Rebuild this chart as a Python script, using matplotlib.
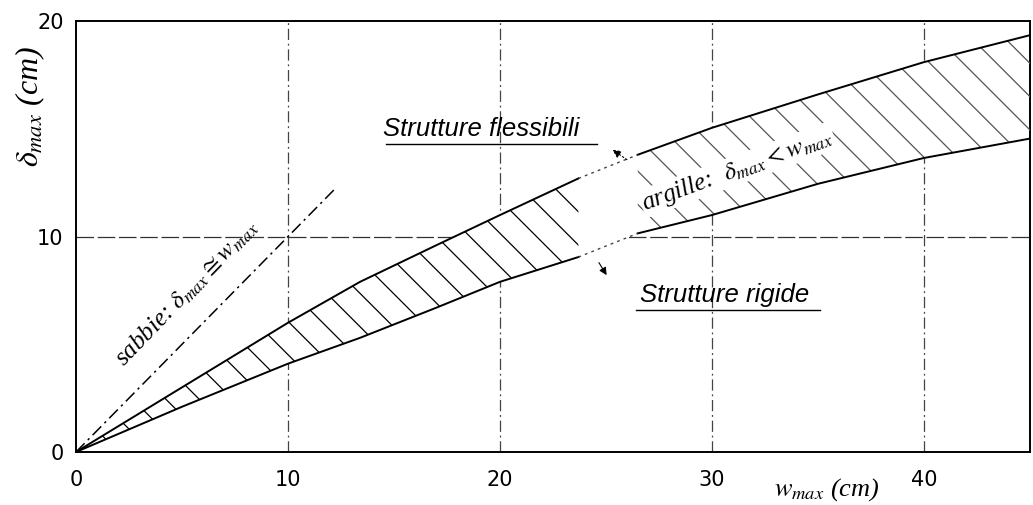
import numpy as np
import matplotlib
matplotlib.use("Agg")
import matplotlib.pyplot as plt

# Settlement band: w_max (cm) vs delta_max (cm)
w_band = [0, 5, 10, 13.4, 17, 20, 23.7, 26.5, 30, 35, 40, 45]
delta_upper = [0, 3.0, 6.0, 7.9, 9.6, 11.0, 12.7, 13.8, 15.05, 16.6, 18.1, 19.35]
delta_lower = [0, 2.1, 4.1, 5.3, 6.7, 7.9, 9.05, 10.15, 11.0, 12.45, 13.65, 14.55]
gap_start, gap_end = 23.7, 26.5

# Sands: delta_max ~ w_max
w_sand = [0, 12.3]
delta_sand = [0, 12.3]

x_ticks = [0, 10, 20, 30, 40]
y_ticks = [0, 10, 20]

plt.rcParams['mathtext.fontset'] = 'stix'
plt.rcParams['hatch.linewidth'] = 0.9

fig = plt.figure(figsize=(10.33, 5.05), dpi=100)
ax = fig.add_axes([0.0736, 0.105, 0.9234, 0.853])
ax.set_xlim(0, 45)
ax.set_ylim(0, 20)

for s in ax.spines.values():
    s.set_linewidth(1.4)
    s.set_color('black')

ax.set_xticks(x_ticks)
ax.set_yticks(y_ticks)
ax.tick_params(length=0, labelsize=15)
ax.tick_params(axis='x', pad=13)
ax.tick_params(axis='y', pad=9)
for lab in ax.get_xticklabels() + ax.get_yticklabels():
    lab.set_family('DejaVu Sans')

# dash-dot grid
grid_ls = (0, (9, 3, 1.5, 3))
for xv in x_ticks[1:]:
    ax.axvline(xv, color='#444444', lw=0.9, ls=grid_ls, zorder=1)
ax.axhline(10, color='#333333', lw=0.9, ls=(0, (14, 3)), zorder=1)

w = np.array(w_band)
up = np.array(delta_upper)
lo = np.array(delta_lower)

# white band hides the grid
ax.fill_between(w, lo, up, facecolor='white', edgecolor='none', zorder=2)

left = w <= gap_start
right = w >= gap_end
ax.fill_between(w[left], lo[left], up[left], facecolor='none', edgecolor='black',
                hatch='\\', linewidth=0, zorder=3)
ax.fill_between(w[right], lo[right], up[right], facecolor='none', edgecolor='#555555',
                hatch='\\', linewidth=0, zorder=3)

for arr in (up, lo):
    ax.plot(w[left], arr[left], color='black', lw=1.4, zorder=4)
    ax.plot(w[right], arr[right], color='black', lw=1.4, zorder=4)
    mid = (w >= gap_start) & (w <= gap_end)
    ax.plot(w[mid], arr[mid], color='#444444', lw=1.0, ls=(0, (2, 3)), zorder=4)

# sands line
ax.plot(w_sand, delta_sand, color='black', lw=1.1, ls=(0, (8, 3, 1.5, 3)), zorder=4)

serif_it = dict(family='Liberation Serif', style='italic')
sans_it = dict(family='Liberation Sans', style='italic')

ax.text(5.2, 7.4, r'sabbie: $\delta_{max} \cong w_{max}$', fontsize=18,
        rotation=46, ha='center', va='center', zorder=5, **serif_it)

ax.text(31.2, 13.1, r'argille:  $\delta_{max} < w_{max}$', fontsize=18,
        rotation=20, ha='center', va='center', zorder=5,
        bbox=dict(facecolor='white', edgecolor='none', pad=1), **serif_it)

ax.text(14.5, 15.0, 'Strutture flessibili', fontsize=18.5, ha='left', va='center',
        zorder=5, **sans_it)
ax.plot([14.6, 24.6], [14.3, 14.3], color='black', lw=1.0, zorder=5)

ax.text(26.6, 7.3, 'Strutture rigide', fontsize=18.5, ha='left', va='center',
        zorder=5, **sans_it)
ax.plot([26.4, 35.1], [6.6, 6.6], color='black', lw=1.0, zorder=5)

ax.annotate('', xy=(25.2, 14.1), xytext=(26.1, 13.5),
            arrowprops=dict(arrowstyle='-|>', color='black', lw=0.8,
                            mutation_scale=12, linestyle=(0, (1.5, 2))), zorder=5)
ax.annotate('', xy=(25.1, 8.1), xytext=(24.6, 8.9),
            arrowprops=dict(arrowstyle='-|>', color='black', lw=0.8,
                            mutation_scale=11), zorder=5)

fig.text(0.029, 0.79, r'$\delta_{max}$ (cm)', rotation=90, ha='center', va='center',
         fontsize=23, **serif_it)
fig.text(0.80, 0.03, r'$w_{max}$ (cm)', ha='center', va='center',
         fontsize=19, **serif_it)

fig.savefig('out.png', dpi=100)
